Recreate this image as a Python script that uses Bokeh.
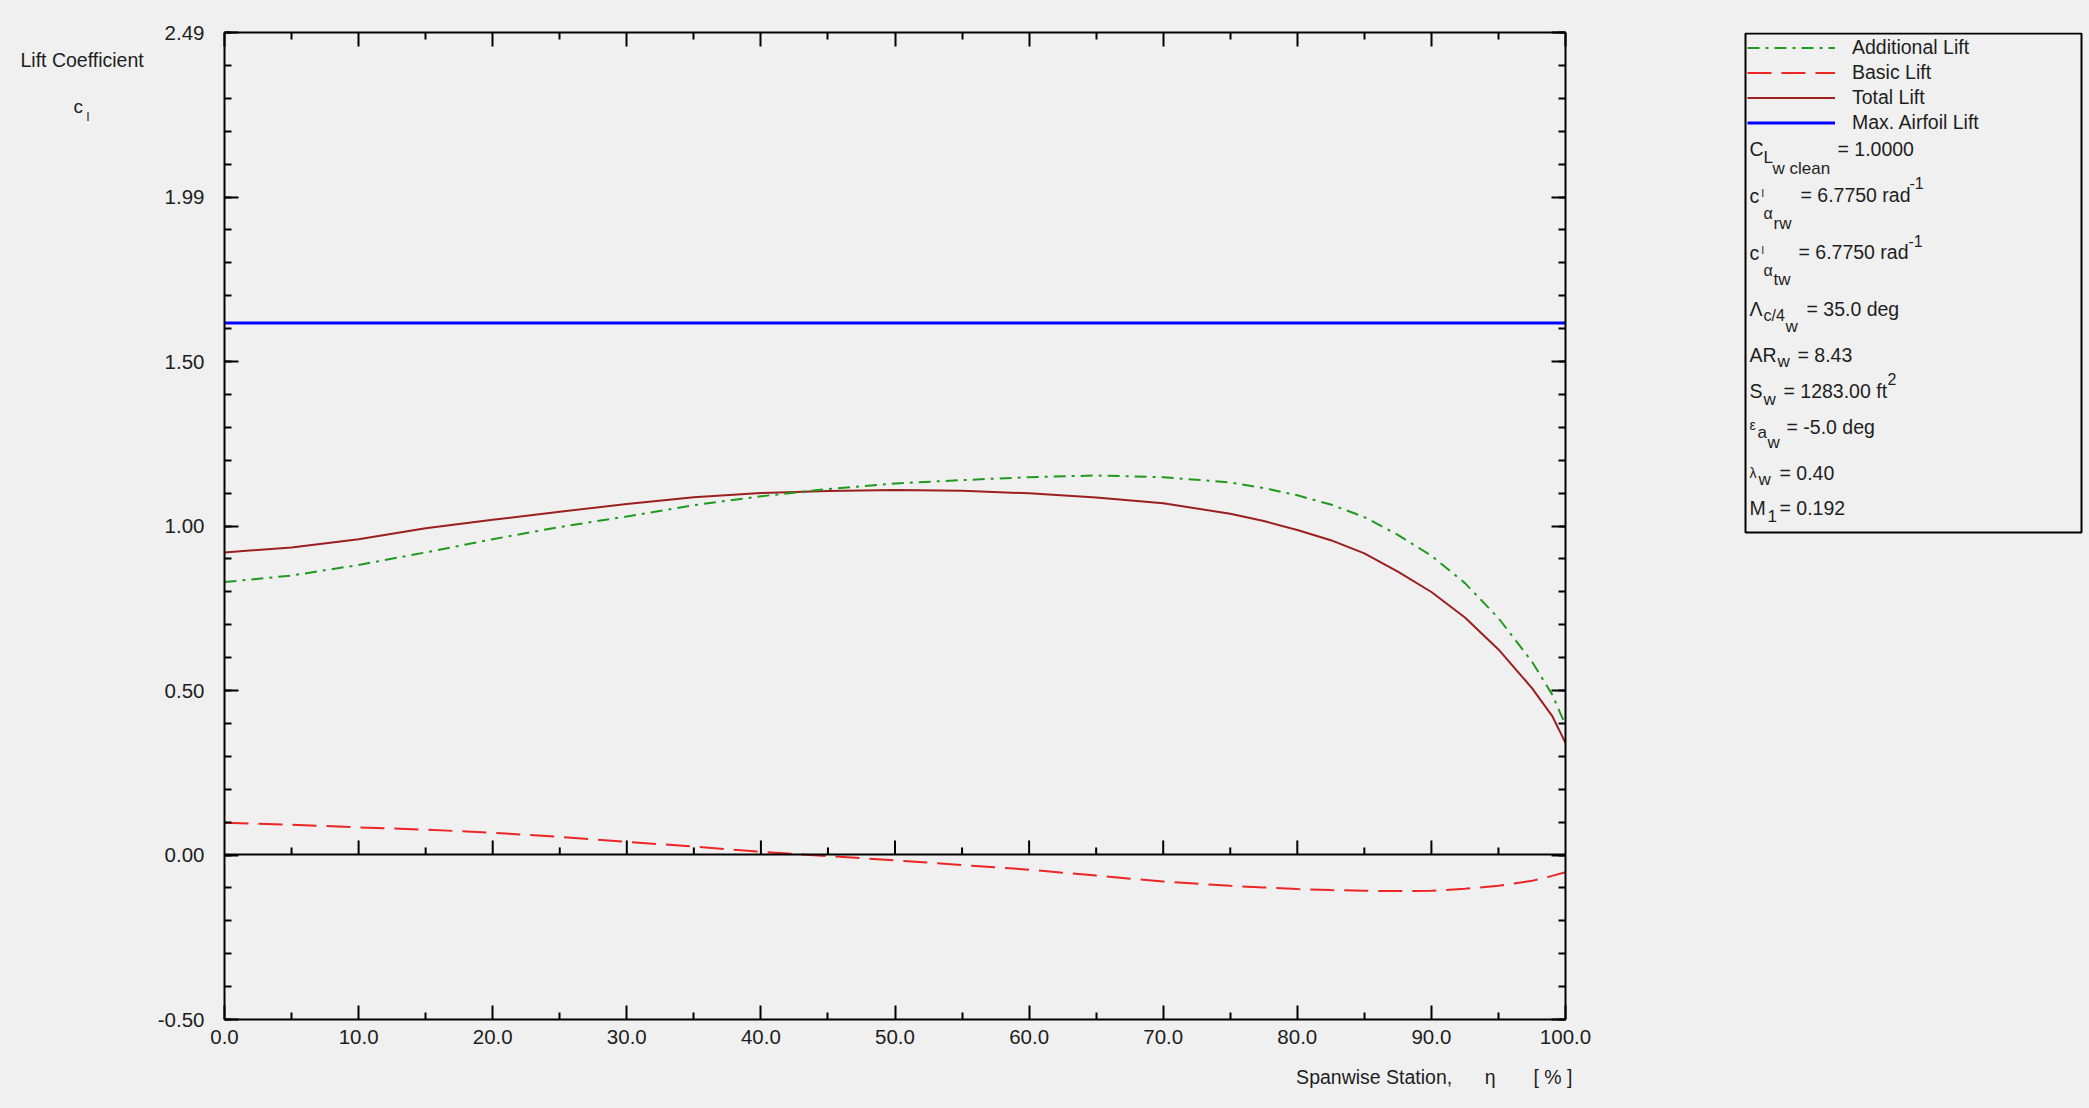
import numpy as np
from bokeh.plotting import figure
from bokeh.models import (Range1d, LinearAxis, FixedTicker, Span, Title,
                          Legend, LegendItem, BoxAnnotation, ColumnDataSource)
from bokeh.layouts import row
from bokeh.embed import file_html
from bokeh.resources import INLINE
from bokeh.core.properties import value

# ---------------- data ----------------
eta = [0, 5, 10, 15, 20, 25, 30, 35, 40, 45, 50, 55, 60, 65, 70, 75, 77.5, 80, 82.5, 85, 87.5,
       90, 92.5, 95, 97.5, 99, 100]
additional_lift = [0.825, 0.845, 0.877, 0.915, 0.955, 0.992, 1.024, 1.058, 1.085, 1.107, 1.124,
                   1.134, 1.143, 1.148, 1.143, 1.127, 1.110, 1.088, 1.060, 1.022, 0.968,
                   0.905, 0.822, 0.716, 0.584, 0.485, 0.392]
basic_lift = [0.096, 0.090, 0.082, 0.075, 0.066, 0.053, 0.038, 0.024, 0.008, -0.005, -0.018,
              -0.032, -0.046, -0.064, -0.082, -0.095, -0.100, -0.105, -0.108, -0.110, -0.111,
              -0.110, -0.104, -0.095, -0.080, -0.065, -0.054]
total_lift = [0.915, 0.930, 0.955, 0.988, 1.014, 1.038, 1.062, 1.082, 1.095, 1.101, 1.104,
              1.102, 1.094, 1.081, 1.064, 1.032, 1.010, 0.983, 0.952, 0.912, 0.857,
              0.795, 0.718, 0.621, 0.504, 0.420, 0.338]
max_airfoil_lift = 1.61

x_tick_values = [0, 10, 20, 30, 40, 50, 60, 70, 80, 90, 100]
x_tick_labels = ["0.0", "10.0", "20.0", "30.0", "40.0", "50.0", "60.0", "70.0", "80.0", "90.0", "100.0"]
x_minor_values = [5, 15, 25, 35, 45, 55, 65, 75, 85, 95]
y_min, y_max = -0.50, 2.49
y_tick_labels = ["-0.50", "0.00", "0.50", "1.00", "1.50", "1.99", "2.49"]

legend_labels = ["Additional Lift", "Basic Lift", "Total Lift", "Max. Airfoil Lift"]
x_title = "Spanwise Station,\u00a0\u00a0\u00a0\u00a0\u00a0\u00a0η\u00a0\u00a0\u00a0\u00a0\u00a0\u00a0\u00a0[\u00a0%\u00a0]"

# ---------------- style ----------------
BG = "#f0f0f0"
TXT = "#1e1e1e"
FONT = "Liberation Sans"
C_ADD = "#1f9a1f"
C_BASIC = "#ee2525"
C_TOTAL = "#9b1f1f"
C_MAX = "#0000ff"

W, H = 2089, 1108
FR_L, FR_R, FR_T, FR_B = 224, 1565, 32, 1019      # main frame edges, page px
W_L = 148                                          # left title strip
W_A = 1625 - W_L                                   # main plot
W_B = W - W_L - W_A                                # legend / parameter panel
FRAME_H = FR_B - FR_T

common = dict(height=H, output_backend="svg", toolbar_location=None, tools="",
              min_border_top=FR_T, min_border_bottom=H - FR_B,
              background_fill_color=BG, background_fill_alpha=1.0,
              border_fill_color=BG, border_fill_alpha=1.0)

# ---------------- main plot ----------------
p = figure(width=W_A, x_range=Range1d(0, 100), y_range=Range1d(y_min, y_max),
           min_border_left=FR_L - W_L, min_border_right=W_L + W_A - FR_R,
           outline_line_color=None, **common)
p.grid.visible = False

y_ticks = [float(v) for v in np.linspace(y_min, y_max, len(y_tick_labels))]
y_minor = [float(v) for v in np.linspace(y_min, y_max, 5 * (len(y_tick_labels) - 1) + 1)]

def style_axis(ax, labels=True):
    ax.axis_line_color = "black"
    ax.axis_line_width = 2
    ax.major_tick_line_color = "black"
    ax.major_tick_line_width = 2
    ax.minor_tick_line_color = "black"
    ax.minor_tick_line_width = 2
    ax.major_tick_in = 14
    ax.major_tick_out = 0
    ax.minor_tick_in = 7
    ax.minor_tick_out = 0
    ax.major_label_text_font = FONT
    if labels:
        ax.major_label_text_font_size = "20.5px"
        ax.major_label_text_color = TXT
    else:
        ax.major_label_text_font_size = "1px"
        ax.major_label_text_color = None
        ax.major_label_standoff = 0

xa = p.xaxis[0]
xa.ticker = FixedTicker(ticks=x_tick_values, minor_ticks=x_minor_values)
xa.major_label_overrides = {v: l for v, l in zip(x_tick_values, x_tick_labels)}
xa.major_label_standoff = 10
style_axis(xa)

ya = p.yaxis[0]
ya.ticker = FixedTicker(ticks=y_ticks, minor_ticks=y_minor)
ya.major_label_overrides = {v: l for v, l in zip(y_ticks, y_tick_labels)}
ya.major_label_standoff = 20
style_axis(ya)

top = LinearAxis(ticker=FixedTicker(ticks=x_tick_values, minor_ticks=x_minor_values))
style_axis(top, labels=False)
p.add_layout(top, "above")
right = LinearAxis(ticker=FixedTicker(ticks=y_ticks, minor_ticks=y_minor))
style_axis(right, labels=False)
p.add_layout(right, "right")

# x-axis title, right aligned under the axis
p.add_layout(Title(text=x_title, align="right", offset=-7, text_font=FONT,
                   text_font_size="19.5px", text_font_style="normal", text_color=TXT,
                   standoff=34), "below")

# zero line with its own inward ticks
p.add_layout(Span(location=0, dimension="width", line_color="black", line_width=2))
px_to_y = (y_max - y_min) / FRAME_H
inner = x_tick_values[1:-1]
p.segment(x0=inner, y0=[0] * len(inner), x1=inner, y1=[14 * px_to_y] * len(inner),
          line_color="black", line_width=2)
p.segment(x0=x_minor_values, y0=[0] * len(x_minor_values), x1=x_minor_values,
          y1=[7 * px_to_y] * len(x_minor_values), line_color="black", line_width=2)

styles = [dict(line_color=C_ADD, line_width=2, line_dash="12 6 3 6"),
          dict(line_color=C_BASIC, line_width=2, line_dash="24 10"),
          dict(line_color=C_TOTAL, line_width=2),
          dict(line_color=C_MAX, line_width=3)]
series = [additional_lift, basic_lift, total_lift, [max_airfoil_lift] * len(eta)]
for ys, st in reversed(list(zip(series, styles))):
    p.line(eta, ys, **st)

# ---------------- left strip: y-axis title ----------------
lft = figure(width=W_L, x_range=Range1d(0, W_L), y_range=Range1d(FRAME_H, 0),
             x_axis_location=None, y_axis_location=None,
             min_border_left=0, min_border_right=0, outline_line_color=None, **common)
lft.grid.visible = False
ysrc = ColumnDataSource(dict(x=[20, 73, 86], y=[27, 74, 84],
                             text=["Lift Coefficient", "c", "l"],
                             size=["19.5px", "19px", "13px"]))
lft.text(x="x", y="y", text="text", source=ysrc, text_font=value(FONT), text_font_size="size",
         text_color=TXT, text_baseline="middle", text_align="left")

# ---------------- right panel: legend + parameters ----------------
q = figure(width=W_B, x_range=Range1d(0, W_B), y_range=Range1d(FRAME_H, 0),
           x_axis_location=None, y_axis_location=None,
           min_border_left=0, min_border_right=0, outline_line_color=None, **common)
q.grid.visible = False
BOX_L = 1745 - (W_L + W_A)
q.add_layout(BoxAnnotation(left=BOX_L, right=BOX_L + 336, top=1, bottom=500,
                           fill_color=None, fill_alpha=0, line_color="black",
                           line_alpha=1.0, line_width=2))

# legend keys: the same series, drawn on an off-screen range so only the keys show
q.extra_x_ranges = {"off": Range1d(1000, 1100)}
keys = [q.line(eta, ys, x_range_name="off", **st) for ys, st in zip(series, styles)]
ITEM_H, SPACING, PAD = 23, 2, 2
leg_h = 2 * PAD + 4 * ITEM_H + 3 * SPACING
leg = Legend(items=[LegendItem(label=t, renderers=[r]) for t, r in zip(legend_labels, keys)],
             location=(BOX_L + 2, FRAME_H - leg_h),
             margin=0, padding=PAD, spacing=SPACING,
             glyph_width=88, glyph_height=ITEM_H, label_height=ITEM_H, label_standoff=17,
             label_text_font=FONT, label_text_font_size="19.5px", label_text_color=TXT,
             border_line_color=None, background_fill_alpha=0)
q.add_layout(leg)

# parameter lines: (text, x offset in box, y offset in box, font px)
param_rows = [
    [("C", 4, 116, 19.5), ("L", 18, 125, 17), ("w clean", 27, 136, 17), ("= 1.0000", 92, 116, 19.5)],
    [("c", 4, 163, 19.5), ("l", 16, 160, 11), ("α", 18, 181, 16), ("rw", 28, 191, 17),
     ("= 6.7750 rad", 55, 162, 19.5), ("-1", 164, 150, 16)],
    [("c", 4, 220, 19.5), ("l", 16, 217, 11), ("α", 18, 238, 16), ("tw", 28, 247, 17),
     ("= 6.7750 rad", 53, 219, 19.5), ("-1", 163, 208, 16)],
    [("Λ", 4, 276, 19.5), ("c/4", 18, 283, 16), ("w", 40, 294, 17), ("= 35.0 deg", 61, 276, 19.5)],
    [("AR", 4, 322, 19.5), ("w", 32, 329, 17), ("= 8.43", 52, 322, 19.5)],
    [("S", 4, 358, 19.5), ("w", 18, 367, 17), ("= 1283.00 ft", 38, 358, 19.5), ("2", 142, 346, 16)],
    [("ε", 4, 392, 14), ("a", 12, 400, 17), ("w", 22, 410, 17), ("= -5.0 deg", 41, 394, 19.5)],
    [("λ", 4, 440, 14), ("w", 13, 447, 17), ("= 0.40", 34, 440, 19.5)],
    [("M", 4, 475, 19.5), ("1", 22, 483, 17), ("= 0.192", 34, 475, 19.5)],
]
flat = [s for r in param_rows for s in r]
psrc = ColumnDataSource(dict(x=[BOX_L + s[1] for s in flat], y=[s[2] for s in flat],
                             text=[s[0] for s in flat], size=["%gpx" % s[3] for s in flat]))
q.text(x="x", y="y", text="text", source=psrc, text_font=value(FONT), text_font_size="size",
       text_color=TXT, text_baseline="middle", text_align="left")

layout = row(lft, p, q, styles={"background-color": BG})
open("out.html", "w").write(file_html(layout, INLINE))
